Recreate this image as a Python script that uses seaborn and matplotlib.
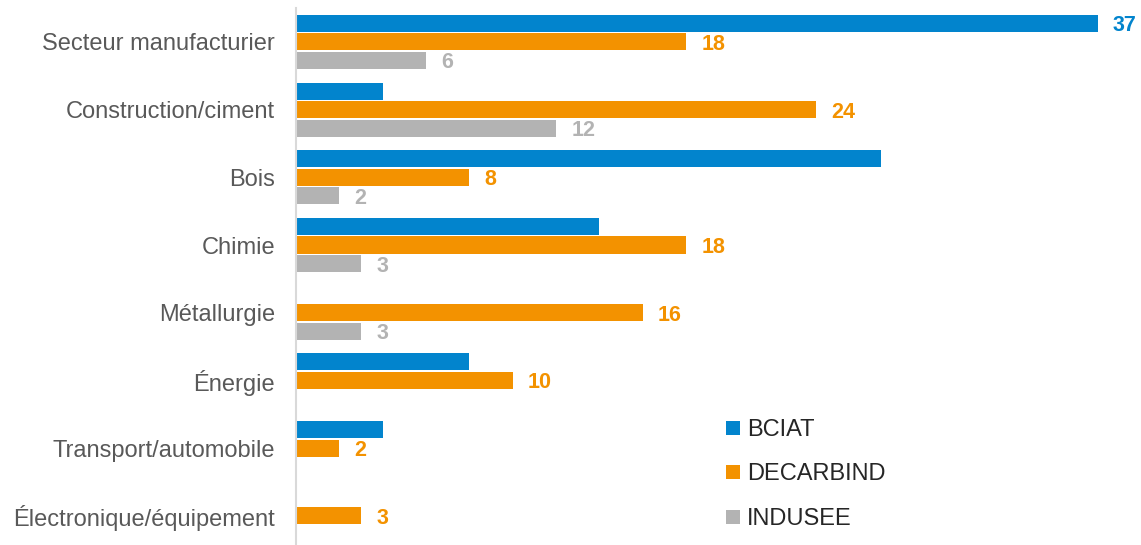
import numpy as np
import pandas as pd
import matplotlib
matplotlib.use("Agg")
import matplotlib.pyplot as plt
from matplotlib.lines import Line2D
import seaborn as sns

# données
secteurs = [
    "Secteur manufacturier",
    "Construction/ciment",
    "Bois",
    "Chimie",
    "Métallurgie",
    "Énergie",
    "Transport/automobile",
    "Électronique/équipement",
]
programmes = ["BCIAT", "DECARBIND", "INDUSEE"]
bciat = [37, 4, 27, 14, 0, 8, 4, 0]
decarbind = [18, 24, 8, 18, 16, 10, 2, 3]
indusee = [6, 12, 2, 3, 3, 0, 0, 0]
# seules certaines valeurs BCIAT sont étiquetées dans l'original
bciat_etiquette = [1, 0, 0, 0, 0, 0, 0, 0]

couleurs = {"BCIAT": "#0284CD", "DECARBIND": "#F39200", "INDUSEE": "#B3B3B3"}

df = pd.DataFrame({
    "secteur": secteurs * 3,
    "programme": np.repeat(programmes, len(secteurs)),
    "valeur": bciat + decarbind + indusee,
})

sns.set_style("white")
plt.rcParams["font.family"] = ["Liberation Sans", "DejaVu Sans"]

fig = plt.figure(figsize=(11.41, 5.45), dpi=100)
ax = fig.add_axes([296 / 1141, 0, 845 / 1141, 537 / 545])

sns.barplot(
    data=df, x="valeur", y="secteur", hue="programme",
    order=secteurs, hue_order=programmes, palette=couleurs,
    orient="h", width=0.82, gap=0.08, saturation=1,
    linewidth=0, legend=False, ax=ax,
)

# étiquettes de valeurs
masques = {
    "BCIAT": bciat_etiquette,
    "DECARBIND": [1 if v > 0 else 0 for v in decarbind],
    "INDUSEE": [1 if v > 0 else 0 for v in indusee],
}
valeurs = {"BCIAT": bciat, "DECARBIND": decarbind, "INDUSEE": indusee}
for cont, prog in zip(ax.containers, programmes):
    labels = [str(v) if m else "" for v, m in zip(valeurs[prog], masques[prog])]
    txts = ax.bar_label(cont, labels=labels, padding=11, color=couleurs[prog],
                        fontweight="bold", fontsize=15.5)
    for t in txts:
        t.set_va("center_baseline")

ax.set_xlim(0, 39)
ax.set_ylim(7.43, -0.5)
ax.set_xlabel("")
ax.set_ylabel("")
ax.set_xticks([])
ax.tick_params(axis="y", length=0, pad=15, labelsize=17, labelcolor="#595959")

for s in ["top", "right", "bottom"]:
    ax.spines[s].set_visible(False)
ax.spines["left"].set_color("#D9D9D9")
ax.spines["left"].set_linewidth(1.5)

handles = [Line2D([], [], marker="s", linestyle="none", markersize=9.4,
                  markerfacecolor=couleurs[p], markeredgewidth=0) for p in programmes]
fig.legend(handles, programmes, loc="upper left",
           bbox_to_anchor=(725.5 / 1141, 1 - 419 / 545),
           frameon=False, fontsize=17, handlelength=0.6, handletextpad=0.3,
           labelspacing=0.95, borderpad=0, borderaxespad=0)

fig.savefig("out.png", dpi=100)
